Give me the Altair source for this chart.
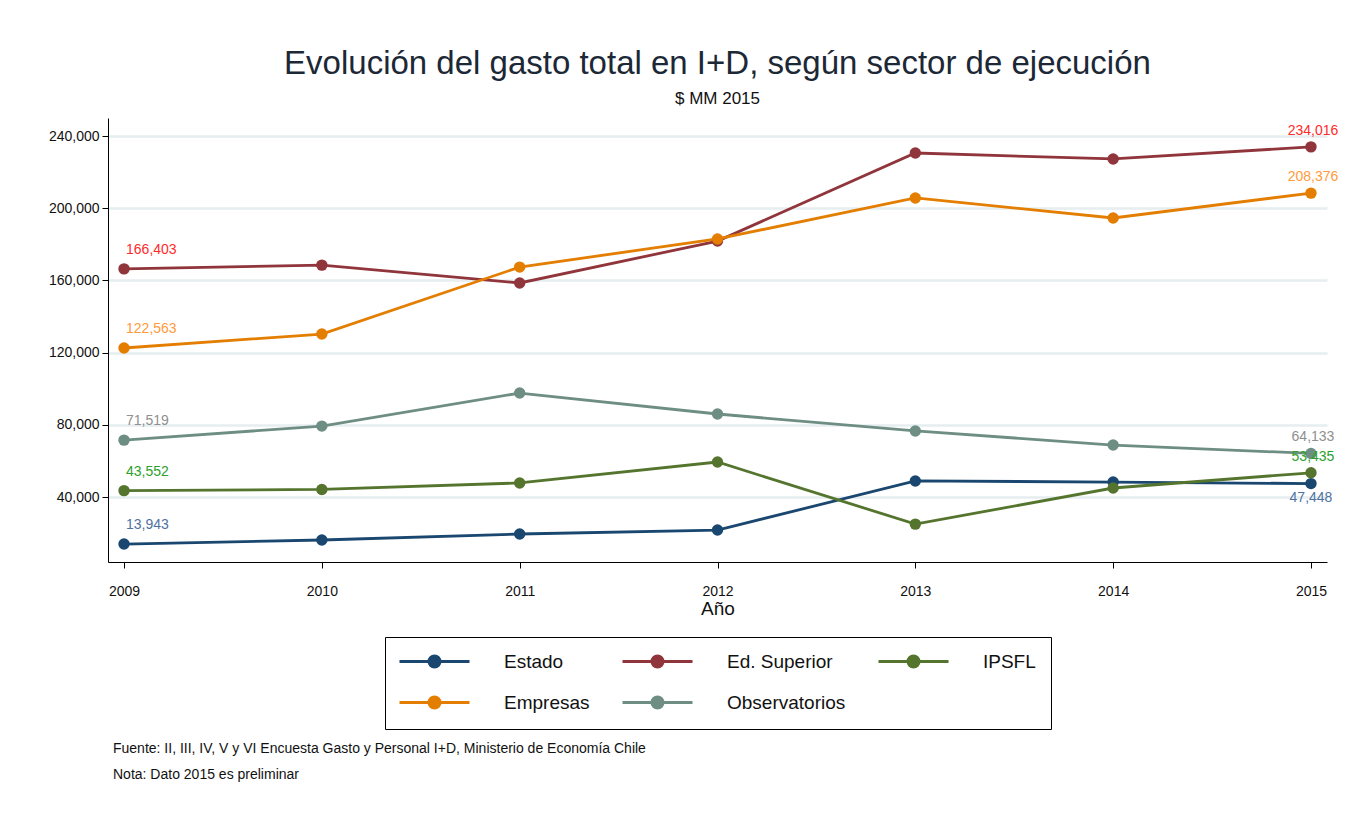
import altair as alt
import pandas as pd

years = [2009, 2010, 2011, 2012, 2013, 2014, 2015]
series = ["Estado", "Ed. Superior", "IPSFL", "Empresas", "Observatorios"]
estado = [13943, 16200, 19500, 21700, 48900, 48300, 47448]
ed_superior = [166403, 168500, 158600, 181800, 230600, 227300, 234016]
ipsfl = [43552, 44200, 47800, 59400, 25000, 45000, 53435]
empresas = [122563, 130300, 167400, 183000, 205700, 194600, 208376]
observatorios = [71519, 79300, 97600, 86000, 76600, 68800, 64133]
line_colors = ["#1a476f", "#90353b", "#55752f", "#e37e00", "#6e8e84"]
label_colors = ["#4f72a0", "#ff2a2a", "#2ca02c", "#ff9a3c", "#8f8f8f"]
end_below = ["Estado"]
y_ticks = [40000, 80000, 120000, 160000, 200000, 240000]

title = "Evolución del gasto total en I+D, según sector de ejecución"
subtitle = "$ MM 2015"
fuente = "Fuente: II, III, IV, V y VI Encuesta Gasto y Personal I+D, Ministerio de Economía Chile"
nota = "Nota: Dato 2015 es preliminar"

FONT = "Liberation Sans Narrow, Arial Narrow, Liberation Sans, sans-serif"

values = [estado, ed_superior, ipsfl, empresas, observatorios]
rows = []
for s, vals, lc in zip(series, values, label_colors):
    for i, (yr, v) in enumerate(zip(years, vals)):
        rows.append({"year": yr, "value": v, "series": s, "lc": lc,
                     "first": i == 0, "last": i == len(years) - 1,
                     "below": s in end_below})
df = pd.DataFrame(rows)

xscale = alt.Scale(domain=[2008.919, 2015.081], nice=False, zero=False)
yscale = alt.Scale(domain=[4000, 250000], nice=False, zero=False)
cscale = alt.Scale(domain=series, range=line_colors)

sym_path = "M-2,0H12M5,-1.1A1.1,1.1,0,1,0,5,1.1A1.1,1.1,0,1,0,5,-1.1Z"
legend = alt.Legend(
    title=None, orient="none", legendX=277, legendY=519, columns=3,
    direction="horizontal",
    symbolType=sym_path, symbolSize=100, symbolStrokeWidth=3,
    labelOffset=85, labelFontSize=19, labelFont=FONT, labelColor="#111111",
    columnPadding=26, rowPadding=18, padding=15,
    strokeColor="#000000", symbolOpacity=1,
)

x_enc = alt.X("year:Q", scale=xscale,
              axis=alt.Axis(values=years, format="d", title="Año", grid=False,
                            labelFontSize=14, labelFont=FONT, labelColor="#111111",
                            titleFontSize=19, titleFont=FONT, titleFontWeight="normal",
                            titleColor="#111111", titlePadding=1,
                            tickSize=6, tickColor="#000000", domainColor="#000000",
                            labelPadding=16))
y_enc = alt.Y("value:Q", scale=yscale,
              axis=alt.Axis(values=y_ticks, format=",d", title=None,
                            labelFontSize=14, labelFont=FONT, labelColor="#111111",
                            tickSize=6, tickColor="#000000", domainColor="#000000",
                            gridColor="#e6eef0", gridWidth=2.5, labelPadding=3))

base = alt.Chart(df)
lines = base.mark_line(strokeWidth=2.8).encode(
    x=x_enc, y=y_enc,
    color=alt.Color("series:N", scale=cscale, sort=series, legend=legend),
)
points = base.mark_point(filled=True, size=130, opacity=1).encode(
    x="year:Q", y="value:Q",
    color=alt.Color("series:N", scale=cscale, sort=series, legend=legend),
)
lab_first = base.transform_filter("datum.first").mark_text(
    align="left", baseline="middle", dx=2, dy=-19, fontSize=14, font=FONT
).encode(x="year:Q", y="value:Q", text=alt.Text("value:Q", format=",d"),
         color=alt.Color("lc:N", scale=None))
lab_last = base.transform_filter("datum.last && !datum.below").mark_text(
    align="center", baseline="middle", dx=2, dy=-16, fontSize=14, font=FONT
).encode(x="year:Q", y="value:Q", text=alt.Text("value:Q", format=",d"),
         color=alt.Color("lc:N", scale=None))
lab_last_b = base.transform_filter("datum.last && datum.below").mark_text(
    align="center", baseline="middle", dx=0, dy=14, fontSize=14, font=FONT
).encode(x="year:Q", y="value:Q", text=alt.Text("value:Q", format=",d"),
         color=alt.Color("lc:N", scale=None))

note1 = alt.Chart(pd.DataFrame({"t": [fuente]})).mark_text(
    align="left", baseline="middle", fontSize=14, font=FONT, color="#111111"
).encode(text="t:N", x=alt.value(5), y=alt.value(631))
note2 = alt.Chart(pd.DataFrame({"t": [nota]})).mark_text(
    align="left", baseline="middle", fontSize=14, font=FONT, color="#111111"
).encode(text="t:N", x=alt.value(5), y=alt.value(657))

chart = alt.layer(lines, points, lab_first, lab_last, lab_last_b, note1, note2).properties(
    width=1219, height=444,
    title=alt.TitleParams(title, subtitle=subtitle, anchor="middle", fontSize=33,
                          font=FONT, fontWeight="normal", color="#1c2836",
                          subtitleFont=FONT, subtitleFontSize=17, subtitleColor="#111111",
                          subtitlePadding=10, offset=11),
    autosize=alt.AutoSizeParams(type="none"),
    padding={"left": 100, "top": 110, "right": 15, "bottom": 236},
).configure(background="white").configure_view(stroke=None)

chart.save("out.html", embed_options={"renderer": "svg", "actions": False})
